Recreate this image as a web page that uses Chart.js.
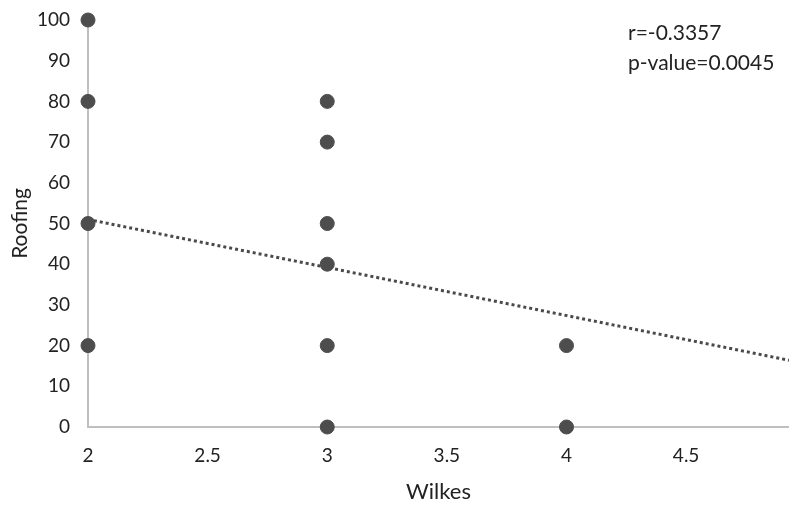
<!DOCTYPE html>
<html><head><meta charset="utf-8">
<script src="https://cdn.jsdelivr.net/npm/chart.js@4/dist/chart.umd.min.js"></script>
<style>html,body{margin:0;padding:0;background:#fff}#wrap{width:789px;height:509px}</style>
</head><body><div id="wrap"><canvas id="c"></canvas></div>
<script>
const wilkes = [2, 2, 2, 2, 3, 3, 3, 3, 3, 3, 4, 4];
const roofing = [100, 80, 50, 20, 80, 70, 50, 40, 20, 0, 20, 0];
const trendX = [2, 4.93];
const trendY = [51, 16.4];
const xTicks = [2, 2.5, 3, 3.5, 4, 4.5];
const yTicks = [0, 10, 20, 30, 40, 50, 60, 70, 80, 90, 100];
const statLines = ['r=-0.3357', 'p-value=0.0045'];

const FONT = 'Lato, "Open Sans", sans-serif';
const pts = wilkes.map((x, i) => ({x, y: roofing[i]}));
const trend = trendX.map((x, i) => ({x, y: trendY[i]}));

const statsPlugin = {
  id: 'stats',
  afterDraw(chart) {
    const ctx = chart.ctx;
    ctx.save();
    ctx.font = '21px ' + FONT;
    ctx.fillStyle = '#222';
    ctx.textBaseline = 'middle';
    ctx.textAlign = 'left';
    statLines.forEach((t, i) => ctx.fillText(t, 628, 33 + i * 30));
    ctx.restore();
  }
};

new Chart(document.getElementById('c'), {
  type: 'scatter',
  data: {
    datasets: [
      {data: trend, type: 'line', borderColor: '#4a4a4a', borderWidth: 3, borderDash: [3, 3],
       borderCapStyle: 'butt', pointRadius: 0, fill: false, order: 2},
      {data: pts, backgroundColor: '#4d4d4d', borderColor: '#4d4d4d', pointRadius: 7, pointHoverRadius: 7, order: 1}
    ]
  },
  options: {
    responsive: true, maintainAspectRatio: false, animation: false,
    clip: false,
    layout: {autoPadding: false, padding: {top: 20, right: 0, left: 0, bottom: 0}},
    plugins: {legend: {display: false}, tooltip: {enabled: false}},
    scales: {
      x: {
        type: 'linear', min: 2, max: 4.93,
        afterBuildTicks: s => { s.ticks = xTicks.map(v => ({value: v})); },
        afterFit: s => { s.height = 82; s.paddingLeft = 0; s.paddingRight = 0; },
        grid: {display: false, drawTicks: false},
        border: {color: '#bfbfbf', width: 2},
        ticks: {color: '#222', font: {size: 19, family: FONT}, padding: 17, maxRotation: 0,
                callback: v => String(v)},
        title: {display: true, text: 'Wilkes', color: '#222', font: {size: 22, family: FONT}, padding: {top: 10}}
      },
      y: {
        type: 'linear', min: 0, max: 100,
        afterBuildTicks: s => { s.ticks = yTicks.map(v => ({value: v})); },
        afterFit: s => { s.width = 88; s.paddingTop = 0; s.paddingBottom = 0; },
        grid: {display: false, drawTicks: false},
        border: {color: '#bfbfbf', width: 2},
        ticks: {color: '#222', font: {size: 19, family: FONT}, padding: 18},
        title: {display: true, text: 'Roofing', color: '#222', font: {size: 21, family: FONT}, padding: {top: 8, bottom: 0}}
      }
    }
  },
  plugins: [statsPlugin]
});
</script></body></html>
